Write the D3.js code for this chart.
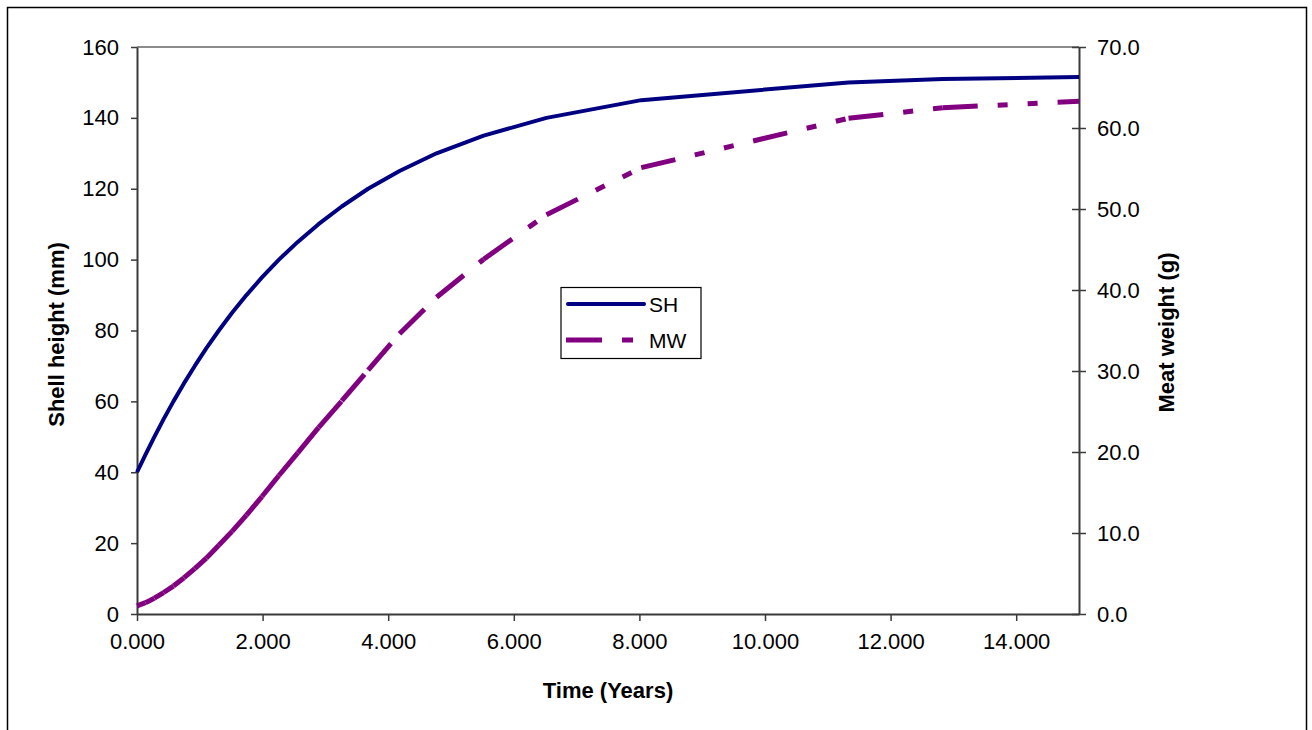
<!DOCTYPE html>
<html>
<head>
<meta charset="utf-8">
<script src="https://cdn.jsdelivr.net/npm/d3@7"></script>
<style>
  body { margin: 0; background: #fff; }
  svg { display: block; font-family: "Liberation Sans", Arial, sans-serif; }
</style>
</head>
<body>
<svg id="chart" width="1312" height="730"></svg>
<script>
// Growth over time: shell height (mm) and meat weight (g)
const timeYears = [0, 0.135, 0.276, 0.424, 0.58, 0.745, 0.92, 1.105, 1.303, 1.514, 1.743, 1.99,
  2.26, 2.56, 2.89, 3.26, 3.68, 4.18, 4.77, 5.52, 6.52, 8.03, 11.33, 12.83, 15.0];
const shellHeight = [40, 45, 50, 55, 60, 65, 70, 75, 80, 85, 90, 95,
  100, 105, 110, 115, 120, 125, 130, 135, 140, 145, 150, 151, 151.5];
const meatWeight = [1.0, 1.4, 1.95, 2.65, 3.45, 4.45, 5.6, 6.9, 8.5, 10.2, 12.2, 14.5,
  17.1, 19.9, 23.0, 26.3, 30.1, 34.6, 39.1, 43.8, 49.3, 55.1, 61.2, 62.5, 63.3];

const xTicks = [0, 2, 4, 6, 8, 10, 12, 14];
const leftTicks = [0, 20, 40, 60, 80, 100, 120, 140, 160];
const rightTicks = [0, 10, 20, 30, 40, 50, 60, 70];
const seriesNames = ["SH", "MW"];

const svg = d3.select("#chart");
const plot = { left: 137, right: 1079, top: 47, bottom: 614 };
const axisColor = "#3a3a3a";
const shColor = "#000080";
const mwColor = "#800080";
const mwDash = "35,20,10,20,10,20";

// outer frame
svg.append("rect")
  .attr("x", 7.5).attr("y", 7.5).attr("width", 1299).attr("height", 760)
  .attr("fill", "none").attr("stroke", "#000").attr("stroke-width", 1.5);

const x = d3.scaleLinear().domain([0, 15]).range([plot.left, plot.right]);
const yL = d3.scaleLinear().domain([0, 160]).range([plot.bottom, plot.top]);
const yR = d3.scaleLinear().domain([0, 70]).range([plot.bottom, plot.top]);

// plot-area top border
svg.append("line")
  .attr("x1", plot.left).attr("x2", plot.right)
  .attr("y1", plot.top).attr("y2", plot.top)
  .attr("stroke", "#8c8c8c").attr("stroke-width", 2);

function styleAxis(g) {
  g.selectAll("path.domain").attr("stroke", axisColor).attr("stroke-width", 2);
  g.selectAll(".tick line").attr("stroke", axisColor).attr("stroke-width", 1.5);
  g.selectAll(".tick text").attr("fill", "#000").style("font-size", "22px")
    .style("font-family", "'Liberation Sans', Arial, sans-serif");
}

// x axis
const gx = svg.append("g").attr("transform", `translate(0,${plot.bottom})`)
  .call(d3.axisBottom(x).tickValues(xTicks).tickFormat(d3.format(".3f"))
    .tickSizeInner(7).tickSizeOuter(0).tickPadding(12));
styleAxis(gx);

// left axis
const gl = svg.append("g").attr("transform", `translate(${plot.left},0)`)
  .call(d3.axisLeft(yL).tickValues(leftTicks).tickFormat(d3.format("d"))
    .tickSizeInner(6).tickSizeOuter(0).tickPadding(12));
styleAxis(gl);

// right axis, ticks cross the axis line
const gr = svg.append("g").attr("transform", `translate(${plot.right},0)`)
  .call(d3.axisRight(yR).tickValues(rightTicks).tickFormat(d3.format(".1f"))
    .tickSizeInner(7).tickSizeOuter(0).tickPadding(11));
styleAxis(gr);
gr.selectAll(".tick line").attr("x1", -7);

// axis titles
svg.append("text")
  .attr("x", x(7.5)).attr("y", 698)
  .attr("text-anchor", "middle").attr("font-weight", "bold").attr("font-size", 22)
  .text("Time (Years)");
svg.append("text")
  .attr("transform", `translate(64,${(plot.top + plot.bottom) / 2 + 4}) rotate(-90)`)
  .attr("text-anchor", "middle").attr("font-weight", "bold").attr("font-size", 22)
  .text("Shell height (mm)");
svg.append("text")
  .attr("transform", `translate(1174,${(plot.top + plot.bottom) / 2 + 2}) rotate(-90)`)
  .attr("text-anchor", "middle").attr("font-weight", "bold").attr("font-size", 22)
  .text("Meat weight (g)");

// shell height line
const shPts = timeYears.map((t, i) => [t, shellHeight[i]]);
svg.append("path")
  .datum(shPts)
  .attr("d", d3.line().x(d => x(d[0])).y(d => yL(d[1])))
  .attr("fill", "none").attr("stroke", shColor).attr("stroke-width", 4)
  .attr("stroke-linejoin", "round");

// meat weight: each segment dashed on its own
const mwPts = timeYears.map((t, i) => [t, meatWeight[i]]);
svg.append("g").selectAll("line")
  .data(d3.pairs(mwPts))
  .join("line")
  .attr("x1", d => x(d[0][0])).attr("y1", d => yR(d[0][1]))
  .attr("x2", d => x(d[1][0])).attr("y2", d => yR(d[1][1]))
  .attr("stroke", mwColor).attr("stroke-width", 5)
  .attr("stroke-dasharray", mwDash).attr("stroke-linecap", "butt");

// legend
const lg = svg.append("g");
lg.append("rect")
  .attr("x", 561).attr("y", 287.5).attr("width", 140).attr("height", 71)
  .attr("fill", "#fff").attr("stroke", "#000").attr("stroke-width", 1.2);
lg.append("line")
  .attr("x1", 568).attr("x2", 644).attr("y1", 304).attr("y2", 304)
  .attr("stroke", shColor).attr("stroke-width", 4).attr("stroke-linecap", "round");
lg.append("line")
  .attr("x1", 566).attr("x2", 633).attr("y1", 340).attr("y2", 340)
  .attr("stroke", mwColor).attr("stroke-width", 5)
  .attr("stroke-dasharray", "36,20,11,20");
lg.selectAll("text.lbl")
  .data(seriesNames)
  .join("text")
  .attr("class", "lbl")
  .attr("x", 649).attr("y", (d, i) => 312 + i * 36)
  .attr("font-size", 21)
  .text(d => d);
</script>
</body>
</html>
